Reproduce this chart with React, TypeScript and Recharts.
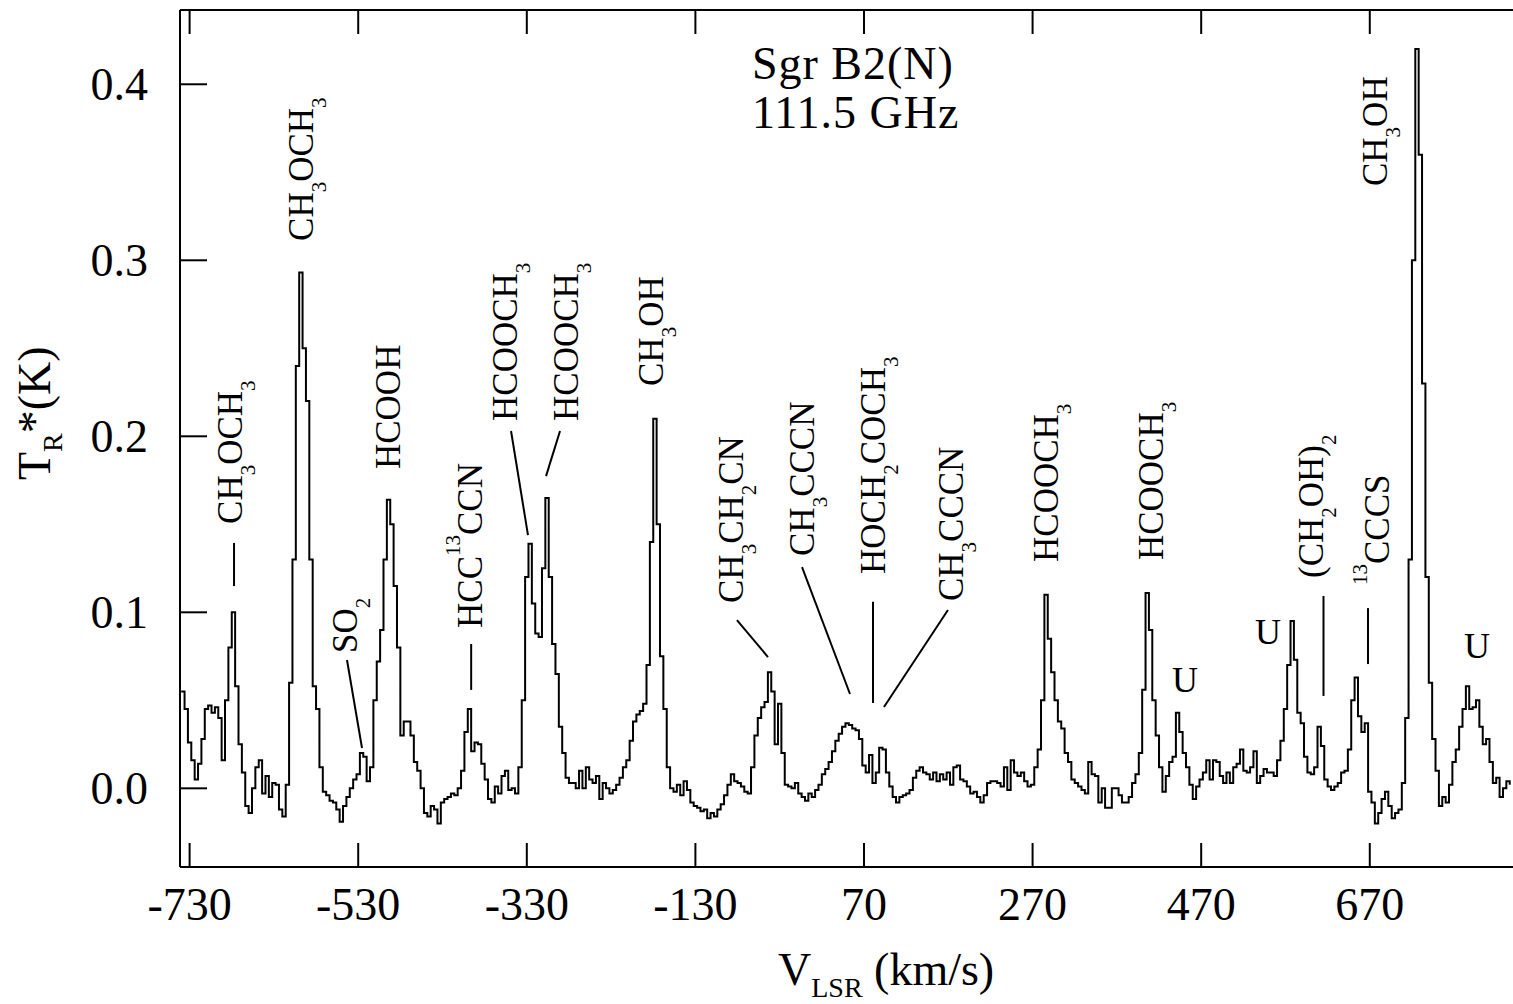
import { LineChart, Line, XAxis, YAxis, ReferenceLine, ReferenceDot, Label } from "recharts";

const FONT = '"Liberation Serif", "Times New Roman", serif';

// spectrum channels: start velocity and channel width (km/s)
const CHANNEL_START = -740;
const CHANNEL_WIDTH = 4;

// T_R* (K) per channel, left to right
const tempA = [
  0.055, 0.045, 0.026, 0.016, 0.005, 0.014, 0.028, 0.045, 0.047, 0.043,
  0.046, 0.04, 0.016, 0.05, 0.08, 0.1, 0.058, 0.025, 0.009, -0.01,
  -0.014, 0.0, 0.012, 0.016, -0.003, 0.007, -0.005, 0.003, 0.002, -0.012,
  -0.016, 0.002, 0.06, 0.13, 0.24, 0.293, 0.25, 0.22, 0.13, 0.058,
  0.045, 0.012, -0.002, -0.004, -0.007, -0.008, -0.012, -0.019, -0.01, -0.005,
  0.0, 0.005, 0.008, 0.02, 0.018, 0.004, 0.012, 0.05, 0.072, 0.09,
  0.13, 0.164, 0.15, 0.115, 0.08, 0.03, 0.038, 0.038, 0.03, 0.015,
  0.01, 0.0, -0.014, -0.016, -0.01, -0.012, -0.02, -0.008, -0.006, -0.005,
];
const tempB = [
  -0.003, -0.004, 0.0, 0.01, 0.032, 0.045, 0.021, 0.026, 0.025, 0.014,
  0.005, -0.006, -0.008, 0.001, -0.003, 0.007, 0.01, -0.001, 0.0, -0.003,
  0.012, 0.05, 0.12, 0.139, 0.105, 0.088, 0.086, 0.125, 0.165, 0.12,
  0.082, 0.065, 0.035, 0.02, 0.006, 0.003, 0.003, 0.0, 0.01, 0.0,
  0.012, 0.005, 0.003, 0.007, -0.006, 0.003, 0.0, -0.003, -0.001, 0.002,
  0.006, 0.012, 0.016, 0.027, 0.038, 0.042, 0.044, 0.048, 0.07, 0.14,
  0.21, 0.15, 0.075, 0.045, 0.012, 0.0, -0.002, 0.002, -0.004, 0.004,
  -0.001, -0.008, -0.01, -0.011, -0.013, -0.012, -0.017, -0.014, -0.016, -0.012,
];
const tempC = [
  -0.009, -0.004, 0.002, 0.008, 0.004, 0.003, 0.001, -0.002, -0.003, 0.012,
  0.03, 0.04, 0.046, 0.049, 0.066, 0.055, 0.025, 0.048, 0.02, 0.002,
  0.001, 0.0, 0.003, -0.003, -0.005, -0.007, -0.003, -0.005, -0.001, 0.002,
  0.008, 0.011, 0.015, 0.021, 0.027, 0.031, 0.035, 0.037, 0.036, 0.034,
  0.033, 0.028, 0.013, 0.009, 0.019, 0.003, 0.009, 0.023, 0.022, 0.009,
  0.001, -0.005, -0.008, -0.005, -0.004, -0.003, -0.001, 0.006, 0.01, 0.012,
  0.009, 0.008, 0.005, 0.009, 0.004, 0.008, 0.005, 0.009, 0.002, 0.012,
  0.013, 0.005, 0.004, 0.001, -0.003, -0.002, -0.005, -0.008, -0.004, 0.003,
];
const tempD = [
  0.004, 0.004, 0.003, 0.001, 0.012, -0.001, 0.016, 0.009, 0.007, 0.009,
  0.004, 0.001, 0.002, 0.012, 0.022, 0.05, 0.11, 0.085, 0.066, 0.05,
  0.038, 0.034, 0.02, 0.015, 0.005, 0.003, 0.001, -0.001, -0.003, 0.015,
  0.008, 0.007, -0.008, 0.0, -0.011, -0.011, 0.0, 0.0, -0.004, -0.008,
  -0.008, -0.005, 0.003, 0.008, 0.02, 0.056, 0.111, 0.09, 0.05, 0.03,
  0.012, -0.002, 0.007, 0.015, 0.018, 0.043, 0.032, 0.02, 0.012, 0.002,
  -0.006, 0.001, 0.005, 0.009, 0.016, 0.005, 0.016, 0.015, 0.007, 0.003,
  0.009, 0.003, 0.012, 0.014, 0.022, 0.01, 0.009, 0.012, 0.021, 0.003,
];
const tempE = [
  0.007, 0.011, 0.009, 0.009, 0.007, 0.016, 0.027, 0.045, 0.07, 0.095,
  0.073, 0.043, 0.037, 0.018, 0.009, 0.008, 0.012, 0.035, 0.024, 0.005,
  0.001, -0.001, 0.001, 0.003, 0.009, 0.01, 0.022, 0.05, 0.063, 0.041,
  0.032, 0.037, -0.002, -0.008, -0.02, -0.014, -0.006, -0.002, -0.01, -0.017,
  -0.014, -0.012, 0.003, 0.04, 0.13, 0.3, 0.42, 0.36, 0.23, 0.12,
  0.06, 0.028, 0.01, -0.01, -0.005, -0.008, 0.002, 0.015, 0.022, 0.035,
  0.045, 0.058, 0.045, 0.046, 0.05, 0.035, 0.025, 0.028, 0.015, 0.003,
  0.006, -0.005, 0.0, 0.004, 0.002,
];

const spectrum = [...tempA, ...tempB, ...tempC, ...tempD, ...tempE].map((t, i) => ({
  v: CHANNEL_START + i * CHANNEL_WIDTH,
  t,
}));

const xTicks = [-730, -530, -330, -130, 70, 270, 470, 670];
const yTicks = [0, 0.1, 0.2, 0.3, 0.4];
const X_DOMAIN: [number, number] = [-741.4, 839.9];
const Y_DOMAIN: [number, number] = [-0.0447, 0.4422];

// rotated line identifications: text start (bottom end) in data coords
const lineLabels = [
  { text: "CH_3OCH_3", v: -667.8, t: 0.1502 },
  { text: "CH_3OCH_3", v: -583.6, t: 0.311 },
  { text: "SO_2", v: -531.4, t: 0.0769 },
  { text: "HCOOH", v: -480.4, t: 0.1814 },
  { text: "HCC^{13}CCN", v: -383.1, t: 0.0911 },
  { text: "HCOOCH_3", v: -341.6, t: 0.2087 },
  { text: "HCOOCH_3", v: -269.3, t: 0.2087 },
  { text: "CH_3OH", v: -168.4, t: 0.2286 },
  { text: "CH_3CH_2CN", v: -73.5, t: 0.1053 },
  { text: "CH_3CCCN", v: 10.7, t: 0.132 },
  { text: "HOCH_2COCH_3", v: 95.0, t: 0.1218 },
  { text: "CH_3CCCN", v: 187.4, t: 0.1064 },
  { text: "HCOOCH_3", v: 300.1, t: 0.1286 },
  { text: "HCOOCH_3", v: 424.7, t: 0.1297 },
  { text: "(CH_2OH)_2", v: 614.5, t: 0.1195 },
  { text: "^{13}CCCS", v: 692.8, t: 0.1155 },
  { text: "CH_3OH", v: 690.5, t: 0.3422 },
];

// unidentified features
const uLabels = [
  { v: 450.8, t: 0.0547 },
  { v: 549.2, t: 0.082 },
  { v: 797.2, t: 0.074 },
];

// leader lines from labels to peaks
const leaders = [
  { v1: -677.3, t1: 0.1394, v2: -677.3, t2: 0.1149 },
  { v1: -543.3, t1: 0.0729, v2: -525.5, t2: 0.0229 },
  { v1: -396, t1: 0.082, v2: -396, t2: 0.0559 },
  { v1: -348.7, t1: 0.203, v2: -328.6, t2: 0.1439 },
  { v1: -290.6, t1: 0.203, v2: -307.2, t2: 0.1774 },
  { v1: -80.7, t1: 0.0956, v2: -43.9, t2: 0.0746 },
  { v1: -3.5, t1: 0.1257, v2: 53.4, t2: 0.0536 },
  { v1: 80.7, t1: 0.106, v2: 80.7, t2: 0.0485 },
  { v1: 169.6, t1: 0.1013, v2: 93.7, t2: 0.0462 },
  { v1: 615.1, t1: 0.1093, v2: 615.1, t2: 0.0525 },
  { v1: 667.9, t1: 0.1024, v2: 667.9, t2: 0.0706 },
];

const titleLines = ["Sgr B2(N)", "111.5 GHz"];
const TITLE_POS = { v: -63, t: 0.403 };

function parseFormula(s: string) {
  const runs: { text: string; shift: number }[] = [];
  let i = 0;
  while (i < s.length) {
    const c = s[i];
    if (c === "_") {
      runs.push({ text: s[i + 1], shift: 1 });
      i += 2;
    } else if (c === "^") {
      const end = s.indexOf("}", i);
      runs.push({ text: s.slice(i + 2, end), shift: -1 });
      i = end + 1;
    } else {
      const last = runs[runs.length - 1];
      if (last && last.shift === 0) last.text += c;
      else runs.push({ text: c, shift: 0 });
      i++;
    }
  }
  return runs;
}

function Formula({ cx, cy, text }: { cx: number; cy: number; text: string }) {
  let cur = 0;
  const spans = parseFormula(text).map((r, k) => {
    const target = r.shift === 1 ? 13 : r.shift === -1 ? -22 : 0;
    const dy = target - cur;
    cur = target;
    return (
      <tspan key={k} dy={dy} fontSize={r.shift ? 21 : 35}>
        {r.text}
      </tspan>
    );
  });
  return (
    <text
      x={cx}
      y={cy}
      transform={`rotate(-90 ${cx} ${cy})`}
      fontFamily={FONT}
      fontSize={35}
      fill="#000"
    >
      {spans}
    </text>
  );
}

function BottomTick({ x, y, payload }: any) {
  return (
    <g>
      <line x1={x} y1={y} x2={x} y2={y - 24} stroke="#000" strokeWidth={2} />
      <text x={x} y={y + 53} textAnchor="middle" fontFamily={FONT} fontSize={46} fill="#000">
        {payload.value}
      </text>
    </g>
  );
}

function TopTick({ x, y }: any) {
  return <line x1={x} y1={y} x2={x} y2={y + 24} stroke="#000" strokeWidth={2} />;
}

function LeftTick({ x, y, payload }: any) {
  return (
    <g>
      <line x1={x} y1={y} x2={x + 27} y2={y} stroke="#000" strokeWidth={2} />
      <text x={x - 32} y={y + 16} textAnchor="end" fontFamily={FONT} fontSize={46} fill="#000">
        {Number(payload.value).toFixed(1)}
      </text>
    </g>
  );
}

function YTitle() {
  const x = 50;
  const y = 480;
  return (
    <text x={x} y={y} transform={`rotate(-90 ${x} ${y})`} fontFamily={FONT} fontSize={46} fill="#000">
      T
      <tspan dy={12} fontSize={28}>R</tspan>
      <tspan dy={-12}>*</tspan>
      <tspan>(K)</tspan>
    </text>
  );
}

function XTitle() {
  return (
    <text x={778} y={985} fontFamily={FONT} fontSize={46} fill="#000" style={{ whiteSpace: "pre" }}>
      V
      <tspan dy={12} fontSize={28}>LSR</tspan>
      <tspan dy={-12}> (km/s)</tspan>
    </text>
  );
}

export default function App() {
  return (
    <div
      style={{
        position: "absolute",
        left: 0,
        top: 0,
        width: 1513,
        height: 1004,
        background: "#fff",
        overflow: "hidden",
      }}
    >
      <LineChart width={1513} height={1004} data={spectrum} margin={{ top: 0, right: 0, bottom: 0, left: 0 }}>
        <XAxis
          xAxisId="top"
          orientation="top"
          dataKey="v"
          type="number"
          domain={X_DOMAIN}
          allowDataOverflow
          ticks={xTicks}
          height={10}
          tickSize={0}
          tickMargin={0}
          tickLine={false}
          axisLine={{ stroke: "#000", strokeWidth: 2 }}
          tick={(p: any) => <TopTick {...p} />}
        />
        <XAxis
          dataKey="v"
          type="number"
          domain={X_DOMAIN}
          allowDataOverflow
          ticks={xTicks}
          height={137}
          tickSize={0}
          tickMargin={0}
          tickLine={false}
          axisLine={{ stroke: "#000", strokeWidth: 2 }}
          tick={(p: any) => <BottomTick {...p} />}
          interval={0}
        >
          <Label content={() => <XTitle />} />
        </XAxis>
        <YAxis
          type="number"
          domain={Y_DOMAIN}
          allowDataOverflow
          ticks={yTicks}
          width={180}
          tickSize={0}
          tickMargin={0}
          tickLine={false}
          axisLine={{ stroke: "#000", strokeWidth: 2 }}
          tick={(p: any) => <LeftTick {...p} />}
          interval={0}
        >
          <Label content={() => <YTitle />} />
        </YAxis>
        <Line
          type="stepAfter"
          dataKey="t"
          stroke="#000"
          strokeWidth={2}
          dot={false}
          activeDot={false}
          isAnimationActive={false}
        />
        {leaders.map((l, i) => (
          <ReferenceLine
            key={`ld-${i}`}
            segment={[
              { x: l.v1, y: l.t1 },
              { x: l.v2, y: l.t2 },
            ]}
            stroke="#000"
            strokeWidth={2}
            ifOverflow="visible"
          />
        ))}
        {lineLabels.map((l, i) => (
          <ReferenceDot
            key={`lb-${i}`}
            x={l.v}
            y={l.t}
            r={1}
            ifOverflow="visible"
            shape={(p: any) => <Formula cx={p.cx} cy={p.cy} text={l.text} />}
          />
        ))}
        {uLabels.map((u, i) => (
          <ReferenceDot
            key={`u-${i}`}
            x={u.v}
            y={u.t}
            r={1}
            ifOverflow="visible"
            shape={(p: any) => (
              <text x={p.cx} y={p.cy} textAnchor="middle" fontFamily={FONT} fontSize={36} fill="#000">
                U
              </text>
            )}
          />
        ))}
        <ReferenceDot
          x={TITLE_POS.v}
          y={TITLE_POS.t}
          r={1}
          ifOverflow="visible"
          shape={(p: any) => (
            <g>
              {titleLines.map((s, i) => (
                <text
                  key={s}
                  x={p.cx}
                  y={p.cy + i * 49}
                  fontFamily={FONT}
                  fontSize={46}
                  fill="#000"
                  letterSpacing={1}
                  style={{ whiteSpace: "pre" }}
                >
                  {s}
                </text>
              ))}
            </g>
          )}
        />
      </LineChart>
    </div>
  );
}
